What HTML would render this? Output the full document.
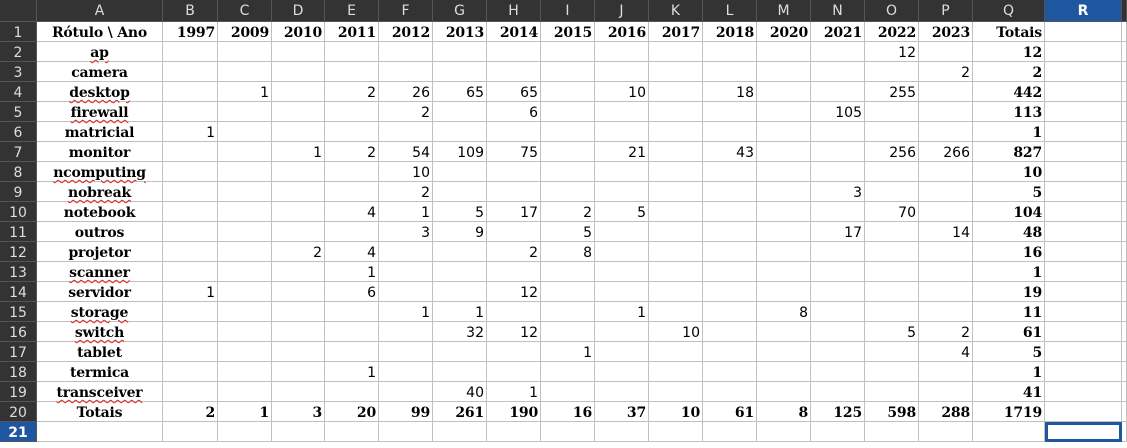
<!DOCTYPE html>
<html><head><meta charset="utf-8"><style>
body{margin:0;width:1127px;height:448px;overflow:hidden;background:#fff;position:relative;font-family:"DejaVu Sans","Liberation Sans",sans-serif}
.c{position:absolute;box-sizing:border-box;border-right:1px solid #c0c0c0;border-bottom:1px solid #c0c0c0;font-size:14px;line-height:19px;white-space:nowrap;overflow:hidden;padding:2px 2px 0 2px}
.h{background:#333;color:#ddd;text-align:center;border-color:#555;font-family:"DejaVu Sans",sans-serif;font-size:14px}
.b{font-family:"DejaVu Serif","Liberation Serif",serif;font-weight:bold;font-size:14px;letter-spacing:-0.2px}
.n{text-align:right}
.l{text-align:center;overflow:visible}
.sp{text-decoration:underline wavy #e02020;text-decoration-thickness:1px;text-underline-offset:2px}
</style></head><body>
<div id="g"></div>
<script>
const edges=[0,37,163,218,272,325,379,433,487,541,595,649,703,757,811,865,919,973,1045,1122,1127];
const letters=["A","B","C","D","E","F","G","H","I","J","K","L","M","N","O","P","Q","R",""];
const years=["Rótulo \\ Ano","1997","2009","2010","2011","2012","2013","2014","2015","2016","2017","2018","2020","2021","2022","2023","Totais"];
const spell=["ap","desktop","firewall","ncomputing","nobreak","scanner","storage","switch","transceiver"];
const rows=[
["ap","","","","","","","","","","","","","","12","","12"],
["camera","","","","","","","","","","","","","","","2","2"],
["desktop","","1","","2","26","65","65","","10","","18","","","255","","442"],
["firewall","","","","","2","","6","","","","","","105","","","113"],
["matricial","1","","","","","","","","","","","","","","","1"],
["monitor","","","1","2","54","109","75","","21","","43","","","256","266","827"],
["ncomputing","","","","","10","","","","","","","","","","","10"],
["nobreak","","","","","2","","","","","","","","3","","","5"],
["notebook","","","","4","1","5","17","2","5","","","","","70","","104"],
["outros","","","","","3","9","","5","","","","","17","","14","48"],
["projetor","","","2","4","","","2","8","","","","","","","","16"],
["scanner","","","","1","","","","","","","","","","","","1"],
["servidor","1","","","6","","","12","","","","","","","","","19"],
["storage","","","","","1","1","","","1","","","8","","","","11"],
["switch","","","","","","32","12","","","10","","","","5","2","61"],
["tablet","","","","","","","","1","","","","","","","4","5"],
["termica","","","","1","","","","","","","","","","","","1"],
["transceiver","","","","","","40","1","","","","","","","","","41"],
["Totais","2","1","3","20","99","261","190","16","37","10","61","8","125","598","288","1719"]];
const g=document.getElementById('g');
function cell(x0,x1,y,h,txt,cls,name,inter){
 const d=document.createElement('div');d.className='c '+cls;
 d.style.left=x0+'px';d.style.top=y+'px';d.style.width=(x1-x0)+'px';d.style.height=h+'px';
 d.textContent=txt;
 
 
 g.appendChild(d);return d;}
const corner=cell(0,37,0,22,'','h','corner','true');
for(let i=1;i<edges.length-1;i++){
 const d=cell(edges[i],edges[i+1],0,22,letters[i-1],'h','column-header-'+(letters[i-1]||'x').toLowerCase(),'true');
 d.style.lineHeight='22px';d.style.paddingTop='0';
 if(letters[i-1]==='R'){d.style.background='#1f56a0';d.style.color='#fff';d.style.fontWeight='bold';}
}
const all=[years].concat(rows);all.push([]);
for(let r=0;r<21;r++){
 const y=22+r*20;
 const rh=cell(0,37,y,20,String(r+1),'h','row-header-'+(r+1),'true');
 if(r===20){rh.style.background='#1f56a0';rh.style.color='#fff';rh.style.fontWeight='bold';}
 for(let c=1;c<edges.length-1;c++){
  const v=(all[r]||[])[c-1]||'';
  let cls='';
  if(c===1) cls='b l';
  else if(r===0||r===19||c===17) cls='b n';
  else cls='n';
  const d=cell(edges[c],edges[c+1],y,20,'',cls,'cell-'+(letters[c-1]||'x').toLowerCase()+(r+1),'true');
  if(c===1&&spell.includes(v)){const s=document.createElement('span');s.className='sp';s.textContent=v;d.appendChild(s);}
  else d.textContent=v;
  if(r===20&&c===18){d.style.border='3px solid #1f56a0';}
 }
}
</script>
</body></html>
